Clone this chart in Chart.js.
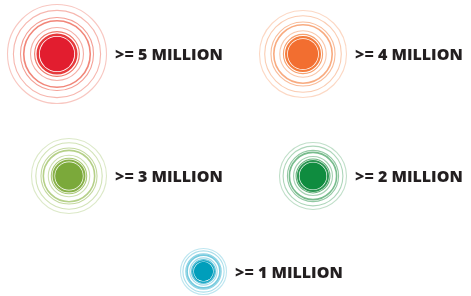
<!DOCTYPE html>
<html lang="en">
<head>
  <meta charset="UTF-8">
  <title>Population markers</title>
  <style>
    * { margin: 0; padding: 0; box-sizing: border-box; }
    body { background: #ffffff; }
    .chart-box { width: 471px; height: 296px; position: relative; }
  </style>
</head>
<body>
  <div class="chart-box">
    <canvas id="legendChart"></canvas>
  </div>

  <script src="https://cdn.jsdelivr.net/npm/chart.js"></script>
  <script>
    // data
    const labels = ['>= 5 MILLION', '>= 4 MILLION', '>= 3 MILLION', '>= 2 MILLION', '>= 1 MILLION'];
    const values = [5, 4, 3, 2, 1];

    // styling: one colour and size per marker
    const colors = ['#e21d2f', '#f26e30', '#7ba93a', '#0f8c3f', '#009ebb'];
    const bandColors = ['#e63a3c', '#f47c3c', '#88b148', '#2a9651', '#1aa8c5'];
    const ringColors = ['#ec5e4c', '#f58f55', '#9cc060', '#4aa465', '#45b8d3'];
    const coreSize = [20.5, 18, 16.5, 16, 11.5];   // disc + inner band
    const outerSize = [50, 44, 38, 34, 23.5];      // last ring
    const ringSteps = [0.08, 0.22, 0.45, 0.56, 0.8, 1.0];
    const ringAlpha = [0.85, 0.5, 0.75, 0.6, 0.45, 0.35];

    // layout: two per row, last one centered
    const rows = [[0, 1], [2, 3], [4]];
    const colText = [115, 355];
    const topMargin = 4, rowGap = 34, textGap = 8;

    function rgba(hex, a) {
      const n = parseInt(hex.slice(1), 16);
      return `rgba(${n >> 16}, ${(n >> 8) & 255}, ${n & 255}, ${a})`;
    }

    const points = [];
    let rowTop = topMargin;
    rows.forEach(row => {
      const maxR = Math.max(...row.map(i => outerSize[i]));
      const cy = rowTop + maxR;
      row.forEach((i, k) => {
        const tx = row.length === 1 ? (colText[0] + colText[1]) / 2 : colText[k];
        points[i] = { x: tx - textGap - outerSize[i], y: cy, r: coreSize[i] * 0.84, v: values[i] };
      });
      rowTop = cy + maxR + rowGap;
    });

    const ringPlugin = {
      id: 'rings',
      beforeDatasetsDraw(chart) {
        const ctx = chart.ctx;
        chart.getDatasetMeta(0).data.forEach((el, i) => {
          const d = coreSize[i], R = outerSize[i];
          ctx.save();
          // inner band, a hairline away from the disc
          ctx.strokeStyle = bandColors[i];
          ctx.lineWidth = d * 0.12;
          ctx.beginPath();
          ctx.arc(el.x, el.y, d * 0.94, 0, Math.PI * 2);
          ctx.stroke();
          ringSteps.forEach((t, j) => {
            ctx.strokeStyle = rgba(ringColors[i], ringAlpha[j]);
            ctx.lineWidth = j === 2 ? 1.6 : 1.1;
            ctx.beginPath();
            ctx.arc(el.x, el.y, d + (R - d) * t - 0.5, 0, Math.PI * 2);
            ctx.stroke();
          });
          ctx.restore();
        });
      },
      afterDatasetsDraw(chart) {
        const ctx = chart.ctx;
        ctx.save();
        ctx.fillStyle = '#231f20';
        ctx.font = '800 16px "Open Sans", sans-serif';
        ctx.textBaseline = 'middle';
        chart.getDatasetMeta(0).data.forEach((el, i) => {
          ctx.fillText(labels[i], el.x + outerSize[i] + textGap, el.y + 1.5);
        });
        ctx.restore();
      }
    };

    new Chart(document.getElementById('legendChart'), {
      type: 'bubble',
      data: {
        labels: labels,
        datasets: [{
          label: 'Population',
          data: points,
          backgroundColor: colors,
          borderWidth: 0,
          hoverRadius: 0
        }]
      },
      options: {
        responsive: true,
        maintainAspectRatio: false,
        animation: false,
        events: [],
        layout: { padding: 0, autoPadding: false },
        clip: false,
        scales: {
          x: { display: false, min: 0, max: 471 },
          y: { display: false, min: 0, max: 296, reverse: true }
        },
        plugins: {
          legend: { display: false },
          tooltip: { enabled: false }
        }
      },
      plugins: [ringPlugin]
    });
  </script>
</body>
</html>
